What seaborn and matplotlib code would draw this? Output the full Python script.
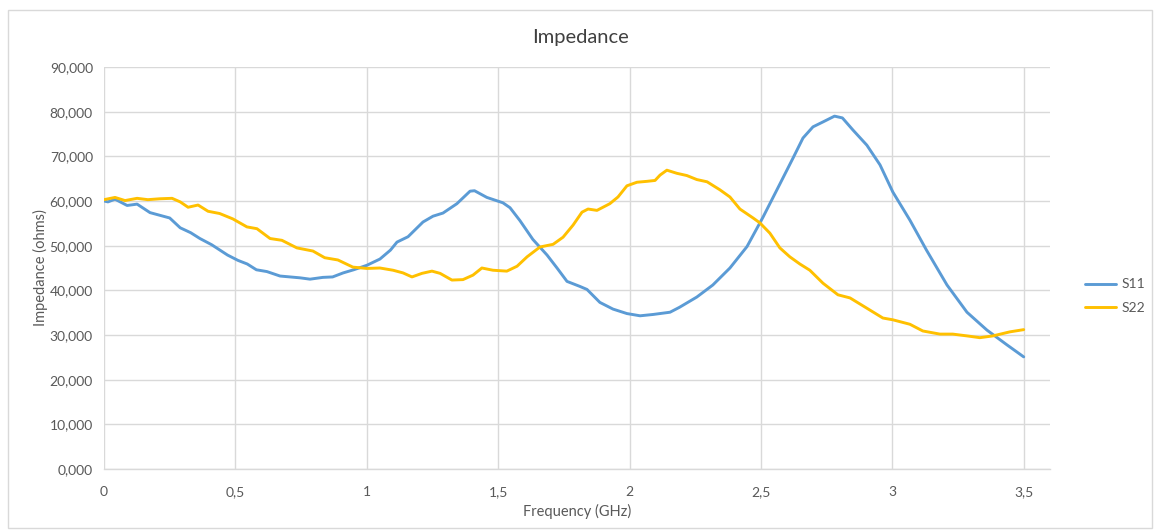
import matplotlib
matplotlib.use("Agg")
import matplotlib.pyplot as plt
from matplotlib.patches import Rectangle
from matplotlib.ticker import FixedLocator, FuncFormatter
import pandas as pd
import seaborn as sns

# Frequency (GHz) and impedance (ohms) for each S-parameter port
freq_s11 = [0, 0.015, 0.042, 0.088, 0.126, 0.175, 0.25, 0.29, 0.33, 0.365,
            0.41, 0.47, 0.51, 0.545, 0.58, 0.62, 0.67, 0.746, 0.784, 0.833,
            0.87, 0.91, 0.95, 1.0, 1.05, 1.09, 1.115, 1.157, 1.214, 1.252,
            1.29, 1.343, 1.393, 1.41, 1.457, 1.518, 1.545, 1.583, 1.632, 1.686,
            1.724, 1.762, 1.81, 1.838, 1.887, 1.937, 1.99, 2.04, 2.09, 2.154,
            2.19, 2.256, 2.317, 2.382, 2.447, 2.508, 2.572, 2.622, 2.66, 2.698,
            2.736, 2.78, 2.81, 2.85, 2.903, 2.953, 3.002, 3.067, 3.13, 3.208,
            3.284, 3.36, 3.436, 3.5]
imp_s11 = [60.0, 59.8, 60.4, 59.0, 59.3, 57.4, 56.2, 54.0, 52.9, 51.6,
           50.2, 47.9, 46.7, 45.9, 44.6, 44.2, 43.2, 42.8, 42.5, 42.9,
           43.0, 43.9, 44.6, 45.6, 47.0, 49.0, 50.8, 52.0, 55.3, 56.6,
           57.3, 59.4, 62.2, 62.3, 60.8, 59.6, 58.5, 55.6, 51.4, 47.9,
           45.0, 42.0, 40.9, 40.2, 37.3, 35.8, 34.8, 34.3, 34.6, 35.1,
           36.2, 38.5, 41.2, 45.0, 49.8, 56.4, 63.8, 69.6, 74.1, 76.6,
           77.7, 79.0, 78.6, 75.9, 72.5, 68.1, 62.0, 55.7, 49.0, 41.2,
           35.1, 31.1, 27.8, 25.1]

freq_s22 = [0, 0.042, 0.08, 0.126, 0.167, 0.213, 0.259, 0.29, 0.32, 0.358,
            0.396, 0.44, 0.49, 0.544, 0.582, 0.632, 0.677, 0.734, 0.795, 0.84,
            0.89, 0.947, 1.0, 1.05, 1.10, 1.138, 1.172, 1.21, 1.248, 1.279,
            1.324, 1.366, 1.404, 1.438, 1.48, 1.533, 1.572, 1.61, 1.659, 1.709,
            1.747, 1.785, 1.819, 1.842, 1.876, 1.925, 1.956, 1.99, 2.028, 2.066,
            2.097, 2.116, 2.142, 2.18, 2.218, 2.256, 2.295, 2.344, 2.382, 2.42,
            2.47, 2.496, 2.534, 2.572, 2.61, 2.648, 2.686, 2.736, 2.793, 2.839,
            2.903, 2.964, 3.002, 3.067, 3.116, 3.181, 3.23, 3.284, 3.333, 3.383,
            3.447, 3.5]
imp_s22 = [60.3, 60.8, 60.1, 60.6, 60.3, 60.5, 60.6, 59.8, 58.6, 59.1,
           57.7, 57.2, 56.0, 54.2, 53.8, 51.6, 51.2, 49.5, 48.8, 47.3,
           46.8, 45.2, 44.9, 45.0, 44.5, 43.9, 43.0, 43.8, 44.3, 43.8,
           42.3, 42.4, 43.4, 45.0, 44.5, 44.3, 45.4, 47.5, 49.7, 50.3,
           51.9, 54.6, 57.5, 58.2, 57.9, 59.4, 60.9, 63.4, 64.2, 64.4,
           64.6, 65.8, 66.9, 66.2, 65.7, 64.8, 64.3, 62.5, 60.9, 58.2,
           56.2, 55.1, 52.8, 49.5, 47.5, 45.9, 44.5, 41.6, 39.0, 38.3,
           36.0, 33.8, 33.4, 32.4, 30.9, 30.2, 30.2, 29.8, 29.4, 29.8,
           30.7, 31.2]

series_names = ["S11", "S22"]
series_colors = ["#5B9BD5", "#FFC000"]
x_ticks = [0, 0.5, 1, 1.5, 2, 2.5, 3, 3.5]
y_ticks = [0, 10, 20, 30, 40, 50, 60, 70, 80, 90]

df = pd.concat([
    pd.DataFrame({"freq": freq_s11, "imp": imp_s11, "series": "S11"}),
    pd.DataFrame({"freq": freq_s22, "imp": imp_s22, "series": "S22"}),
], ignore_index=True)

sns.set_theme(style="white")
plt.rcParams["font.family"] = ["Lato", "DejaVu Sans"]
text_color = "#595959"
grid_color = "#D9D9D9"

fig = plt.figure(figsize=(11.56, 5.30), dpi=100)
ax = fig.add_axes([104 / 1156, 1 - 469 / 530, (1050 - 104) / 1156, (469 - 67) / 530])

sns.lineplot(data=df, x="freq", y="imp", hue="series", hue_order=series_names,
             palette=dict(zip(series_names, series_colors)), estimator=None,
             sort=False, linewidth=2.1, ax=ax, legend=False)
for ln in ax.lines:
    ln.set_solid_joinstyle("round")
    ln.set_solid_capstyle("round")

ax.set_xlim(0, 3.6)
ax.set_ylim(0, 90)
ax.xaxis.set_major_locator(FixedLocator(x_ticks))
ax.yaxis.set_major_locator(FixedLocator(y_ticks))
ax.xaxis.set_major_formatter(FuncFormatter(lambda v, p: f"{v:g}".replace(".", ",")))
ax.yaxis.set_major_formatter(FuncFormatter(lambda v, p: f"{v:.3f}".replace(".", ",")))
ax.grid(True, color=grid_color, linewidth=1.0)
ax.set_axisbelow(True)
for side in ["top", "right", "left"]:
    ax.spines[side].set_visible(False)
ax.spines["bottom"].set_color(grid_color)
ax.spines["bottom"].set_linewidth(1.0)
ax.tick_params(axis="both", length=0, labelsize=10, labelcolor=text_color)
ax.tick_params(axis="x", pad=12)
ax.tick_params(axis="y", pad=8)

ax.set_xlabel("Frequency (GHz)", fontsize=10.5, color=text_color)
ax.set_ylabel("Impedance (ohms)", fontsize=10.5, color=text_color)
ax.xaxis.set_label_coords(0.5, (469 - 511) / 402)
ax.xaxis.label.set_va("center")
ax.yaxis.set_label_coords((40 - 104) / 946, 0.5)
ax.yaxis.label.set_va("center")

fig.text(580 / 1156, 1 - 38 / 530, "Impedance", ha="center", va="center",
         fontsize=14.5, color="#404040")

handles = [plt.Line2D([], [], color=c, linewidth=2.1) for c in series_colors]
fig.legend(handles, series_names, loc="center left",
           bbox_to_anchor=(1072 / 1156, 1 - 296 / 530), frameon=False,
           fontsize=10, labelcolor=text_color, handlelength=2.3,
           handletextpad=0.4, labelspacing=0.8)

fig.patches.append(Rectangle((8 / 1156, 2 / 530), 1144 / 1156, 518 / 530,
                             transform=fig.transFigure, fill=False,
                             edgecolor=grid_color, linewidth=1.0))

fig.savefig("out.png", dpi=100, facecolor="white")
